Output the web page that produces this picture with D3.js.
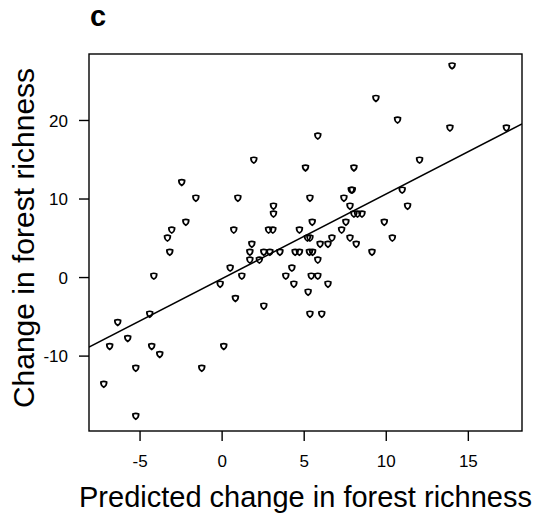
<!DOCTYPE html>
<html>
<head>
<meta charset="utf-8">
<script src="https://cdn.jsdelivr.net/npm/d3@7"></script>
<style>
  html, body { margin: 0; padding: 0; background: #fff; }
  svg text { font-family: "Liberation Sans", Arial, sans-serif; fill: #000; }
</style>
</head>
<body>
<svg id="chart" width="540" height="522"></svg>
<script>
// Predicted vs observed change in forest richness
const predicted = [
  1.96, -2.43, -1.57, 0.99, 3.16, 3.16, -2.18, -3.04, -3.3, 0.74,
  2.86, 3.12, 1.84, 4.74, 14.04, 9.4, 10.72, 13.91, 17.35, 5.86,
  5.11, 8.06, 12.06, 7.9, 7.96, 5.38, 7.45, 11.0, 7.82, 11.33,
  8.06, 8.28, 8.55, 5.52, 7.57, 9.91, 7.31, 5.23, 5.38, 6.72,
  6.0, 6.48, 7.82, 8.2, 10.4, 3.55, 4.48, 4.74, 5.35, 5.54,
  9.16, 5.86, 4.28, 3.91, 5.46, 5.86, 4.4, 6.48, 5.27, 5.38,
  6.1, -3.16, 1.72, 1.72, 2.3, 2.57, 2.94, 0.52, 1.23, -0.09,
  -4.13, 0.84, 2.57, -4.38, -6.33, -5.72, -6.82, -4.26, -3.77, 0.13,
  -5.23, -1.21, -7.18, -5.23
];
const observed = [
  14.9, 12.06, 10.06, 10.06, 9.04, 8.03, 7.0, 5.99, 4.97, 5.99,
  5.99, 5.99, 4.2, 6.0, 26.9, 22.76, 20.0, 18.98, 18.98, 17.96,
  13.9, 13.9, 14.9, 11.08, 11.08, 10.06, 10.06, 11.08, 9.04, 9.04,
  8.03, 8.03, 8.03, 7.0, 7.0, 7.0, 5.99, 4.97, 4.97, 4.97,
  4.2, 4.2, 4.97, 4.2, 4.97, 3.18, 3.18, 3.18, 3.18, 3.18,
  3.18, 2.17, 1.15, 0.13, 0.13, 0.13, -0.89, -0.89, -1.91, -4.71,
  -4.71, 3.18, 3.18, 2.17, 2.17, 3.18, 3.18, 1.15, 0.13, -0.89,
  0.13, -2.72, -3.69, -4.71, -5.78, -7.81, -8.83, -8.83, -9.85, -8.83,
  -11.59, -11.59, -13.63, -17.7
];
const xTicks = [-5, 0, 5, 10, 15];
const yTicks = [-10, 0, 10, 20];
const xDomain = [-8.08, 18.3];
const yDomain = [-19.6, 28.4];
// least-squares fit: [intercept, slope]
const fitLine = [-0.22, 1.077];

const panelLabel = "c";
const xTitle = "Predicted change in forest richness";
const yTitle = "Change in forest richness";

const svg = d3.select("#chart");
const box = { left: 89, right: 522, top: 54, bottom: 431 };

const x = d3.scaleLinear().domain(xDomain).range([box.left, box.right]);
const y = d3.scaleLinear().domain(yDomain).range([box.bottom, box.top]);

// plot frame
svg.append("rect")
  .attr("x", box.left).attr("y", box.top)
  .attr("width", box.right - box.left).attr("height", box.bottom - box.top)
  .attr("fill", "none").attr("stroke", "#000").attr("stroke-width", 1.4);

// axes (plain hyphen for negative labels)
const fmt = d => String(d);
const xAxis = svg.append("g")
  .attr("transform", `translate(0,${box.bottom})`)
  .call(d3.axisBottom(x).tickValues(xTicks).tickSize(10).tickPadding(14).tickFormat(fmt));
const yAxis = svg.append("g")
  .attr("transform", `translate(${box.left},0)`)
  .call(d3.axisLeft(y).tickValues(yTicks).tickSize(10).tickPadding(11).tickFormat(fmt));
[xAxis, yAxis].forEach(g => {
  g.select(".domain").remove();
  g.selectAll(".tick line").attr("stroke", "#000").attr("stroke-width", 1.4);
  g.selectAll(".tick text").style("font-size", "17px").attr("fill", "#000");
});
yAxis.selectAll(".tick text").attr("dy", "0.36em");

// fit line, clipped to the frame
const clip = svg.append("clipPath").attr("id", "plotClip");
clip.append("rect")
  .attr("x", box.left).attr("y", box.top)
  .attr("width", box.right - box.left).attr("height", box.bottom - box.top);

const fitY = v => fitLine[0] + fitLine[1] * v;
svg.append("line")
  .attr("clip-path", "url(#plotClip)")
  .attr("x1", x(xDomain[0])).attr("y1", y(fitY(xDomain[0])))
  .attr("x2", x(xDomain[1])).attr("y2", y(fitY(xDomain[1])))
  .attr("stroke", "#000").attr("stroke-width", 1.5);

// observations as small open shield-shaped markers
const markerPath = "M-2.9,-2.1 Q0,-3.5 2.9,-2.1 Q3.1,1.3 0,3.1 Q-3.1,1.3 -2.9,-2.1 Z";
svg.append("g")
  .selectAll("path")
  .data(d3.range(predicted.length))
  .join("path")
  .attr("d", markerPath)
  .attr("transform", i => `translate(${x(predicted[i])},${y(observed[i])})`)
  .attr("fill", "none")
  .attr("stroke", "#000")
  .attr("stroke-width", 1.7);

// titles
svg.append("text")
  .attr("x", 90).attr("y", 26)
  .style("font-size", "29px").style("font-weight", "bold")
  .text(panelLabel);

svg.append("text")
  .attr("x", 305.5).attr("y", 507)
  .attr("text-anchor", "middle")
  .style("font-size", "29px")
  .text(xTitle);

svg.append("text")
  .attr("transform", "translate(34,238) rotate(-90)")
  .attr("text-anchor", "middle")
  .style("font-size", "30px")
  .text(yTitle);
</script>
</body>
</html>
